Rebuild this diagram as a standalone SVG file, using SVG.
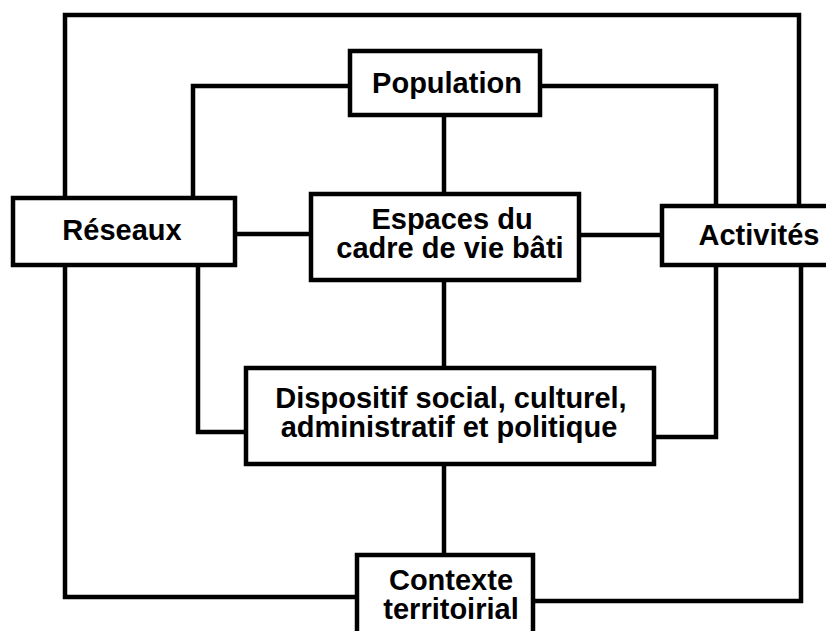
<svg xmlns="http://www.w3.org/2000/svg" width="826" height="631" viewBox="0 0 826 631">
<style>
.box{fill:#fff;stroke:#000;stroke-width:4.5}
.ln{fill:none;stroke:#000;stroke-width:4.5;stroke-linejoin:miter;stroke-linecap:square}
.t{font-family:"Liberation Sans",Arial,Helvetica,sans-serif;font-weight:bold;font-size:29px;fill:#000;text-anchor:middle}
</style>
<rect width="826" height="631" fill="#fff"/>
<g id="connectors">
<path class="ln" d="M65,198 V15 H799 V206"/>
<path class="ln" d="M801,265 V601 H533"/>
<path class="ln" d="M65,265 V597 H357"/>
<path class="ln" d="M350,86 H193 V198"/>
<path class="ln" d="M540,86 H716 V206"/>
<path class="ln" d="M198,265 V432 H246"/>
<path class="ln" d="M716,265 V437 H654"/>
<path class="ln" d="M235,234 H311"/>
<path class="ln" d="M579,235 H662"/>
<path class="ln" d="M444,115 V194"/>
<path class="ln" d="M444,280 V368"/>
<path class="ln" d="M444,464 V555"/>
</g>
<g id="population">
<rect class="box" x="350" y="51" width="190" height="64"/>
<text class="t" x="447" y="93">Population</text>
</g>
<g id="reseaux">
<rect class="box" x="13" y="198" width="222" height="67"/>
<text class="t" x="122" y="240">Réseaux</text>
</g>
<g id="espaces">
<rect class="box" x="311" y="194" width="268" height="86"/>
<text class="t" x="452" y="229">Espaces du</text>
<text class="t" x="450" y="258">cadre de vie bâti</text>
</g>
<g id="activites">
<rect class="box" x="662" y="206" width="170" height="59"/>
<text class="t" x="759" y="245">Activités</text>
</g>
<g id="dispositif">
<rect class="box" x="246" y="368" width="408" height="96"/>
<text class="t" x="451" y="408">Dispositif social, culturel,</text>
<text class="t" x="449" y="437">administratif et politique</text>
</g>
<g id="contexte">
<rect class="box" x="357" y="555" width="176" height="90"/>
<text class="t" x="451" y="590">Contexte</text>
<text class="t" x="451" y="619">territoirial</text>
</g>
</svg>
